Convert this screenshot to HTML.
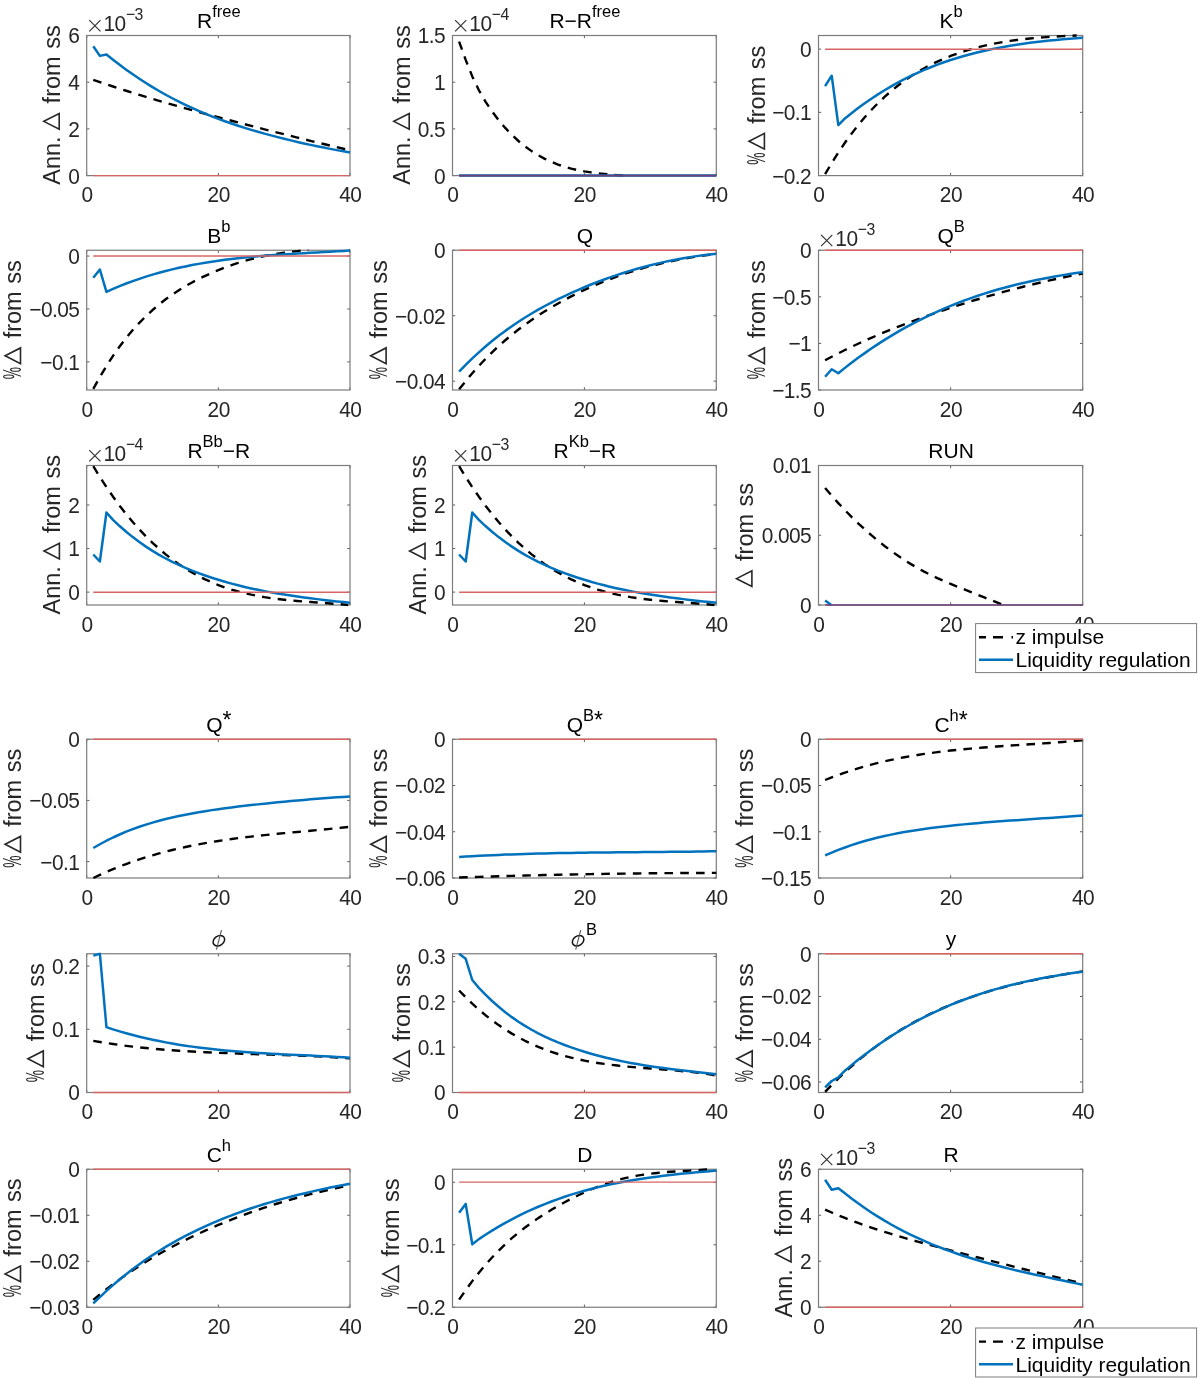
<!DOCTYPE html>
<html><head><meta charset="utf-8"><title>IRF figure</title>
<style>
html,body{margin:0;padding:0;background:#fff;}
svg{display:block;will-change:transform;}
text{font-family:"Liberation Sans",sans-serif;}
.tk{font-size:22.5px;fill:#262626;letter-spacing:-0.6px;}
.esup{font-size:17px;}
.tt{font-size:21px;fill:#000;}
.sup,.tsup{font-size:16.5px;}
.tsup{fill:#000;}
.yl{font-size:23.5px;fill:#262626;}
.lg{font-size:21px;fill:#000;}
.ast{font-size:23px;}
</style></head>
<body>
<svg width="1200" height="1380" viewBox="0 0 1200 1380">
<rect width="1200" height="1380" fill="#fff"/>
<clipPath id="c1"><rect x="85.20" y="34.00" width="266.30" height="143.10"/></clipPath>
<path d="M86.70,175.60v-2.7M86.70,35.50v2.7M218.35,175.60v-2.7M218.35,35.50v2.7M350.00,175.60v-2.7M350.00,35.50v2.7M86.70,175.60h2.7M350.00,175.60h-2.7M86.70,128.90h2.7M350.00,128.90h-2.7M86.70,82.20h2.7M350.00,82.20h-2.7M86.70,35.50h2.7M350.00,35.50h-2.7" stroke="#5a5a5a" stroke-width="1" fill="none"/>
<rect x="86.70" y="35.50" width="263.30" height="140.10" fill="none" stroke="#7c7c7c" stroke-width="1.2"/>
<g clip-path="url(#c1)" fill="none" stroke-linejoin="round"><path d="M93.28,79.83 L99.87,82.10 L106.45,84.33 L113.03,86.51 L119.61,88.66 L126.19,90.76 L132.78,92.83 L139.36,94.87 L145.94,96.87 L152.53,98.85 L159.11,100.79 L165.69,102.70 L172.27,104.59 L178.86,106.46 L185.44,108.31 L192.02,110.13 L198.60,111.94 L205.19,113.73 L211.77,115.50 L218.35,117.27 L224.93,119.02 L231.52,120.76 L238.10,122.49 L244.68,124.21 L251.26,125.91 L257.85,127.61 L264.43,129.30 L271.01,130.98 L277.59,132.64 L284.18,134.30 L290.76,135.95 L297.34,137.58 L303.92,139.21 L310.50,140.83 L317.09,142.43 L323.67,144.03 L330.25,145.62 L336.83,147.20 L343.42,148.77 L350.00,150.33" stroke="#000" stroke-width="2.4" stroke-dasharray="8.6 7.2"/><path d="M93.28,46.30 L99.87,55.90 L106.45,54.50 L113.03,59.73 L119.61,64.79 L126.19,69.64 L132.78,74.29 L139.36,78.75 L145.94,83.02 L152.53,87.10 L159.11,91.00 L165.69,94.72 L172.27,98.27 L178.86,101.65 L185.44,104.88 L192.02,107.95 L198.60,110.87 L205.19,113.66 L211.77,116.31 L218.35,118.84 L224.93,121.25 L231.52,123.54 L238.10,125.74 L244.68,127.84 L251.26,129.84 L257.85,131.77 L264.43,133.63 L271.01,135.41 L277.59,137.14 L284.18,138.79 L290.76,140.39 L297.34,141.94 L303.92,143.42 L310.50,144.86 L317.09,146.24 L323.67,147.58 L330.25,148.88 L336.83,150.13 L343.42,151.35 L350.00,152.53" stroke="#0072BD" stroke-width="2.5"/><line x1="93.28" y1="175.60" x2="350.00" y2="175.60" stroke="#D86464" stroke-width="1.4"/></g>
<text class="tk" transform="translate(87.00,202.10) scale(0.93,1)" text-anchor="middle">0</text>
<text class="tk" transform="translate(218.65,202.10) scale(0.93,1)" text-anchor="middle">20</text>
<text class="tk" transform="translate(350.30,202.10) scale(0.93,1)" text-anchor="middle">40</text>
<text class="tk" transform="translate(79.40,183.50) scale(0.93,1)" text-anchor="end">0</text>
<text class="tk" transform="translate(79.40,136.80) scale(0.93,1)" text-anchor="end">2</text>
<text class="tk" transform="translate(79.40,90.10) scale(0.93,1)" text-anchor="end">4</text>
<text class="tk" transform="translate(79.40,43.40) scale(0.93,1)" text-anchor="end">6</text>
<path d="M89.30,20.20L100.50,31.40M100.50,20.20L89.30,31.40" stroke="#333" stroke-width="1.2" fill="none"/>
<text class="tk" transform="translate(103.50,30.90) scale(0.93,1)">10<tspan class="esup" dx="0.3" dy="-10.7">−3</tspan></text>
<text class="tt" x="218.85" y="27.75" text-anchor="middle">R<tspan class="sup" dy="-10.5">free</tspan></text>
<g class="yl" transform="translate(60.00,184.70) rotate(-90)"><text x="-0.1" y="0">Ann.</text><path d="M55.50,-0.80L71.20,-0.80L63.35,-16.20Z" fill="none" stroke="#262626" stroke-width="1.6" stroke-linejoin="miter" stroke-miterlimit="10"/><text x="81.30" y="0" word-spacing="1">from ss</text></g>
<clipPath id="c2"><rect x="451.00" y="34.00" width="266.80" height="143.10"/></clipPath>
<path d="M452.50,175.60v-2.7M452.50,35.50v2.7M584.40,175.60v-2.7M584.40,35.50v2.7M716.30,175.60v-2.7M716.30,35.50v2.7M452.50,175.60h2.7M716.30,175.60h-2.7M452.50,128.90h2.7M716.30,128.90h-2.7M452.50,82.20h2.7M716.30,82.20h-2.7M452.50,35.50h2.7M716.30,35.50h-2.7" stroke="#5a5a5a" stroke-width="1" fill="none"/>
<rect x="452.50" y="35.50" width="263.80" height="140.10" fill="none" stroke="#7c7c7c" stroke-width="1.2"/>
<g clip-path="url(#c2)" fill="none" stroke-linejoin="round"><path d="M459.10,41.57 L465.69,59.87 L472.28,76.42 L478.88,90.26 L485.48,101.67 L492.07,111.45 L498.66,120.16 L505.26,127.95 L511.86,134.88 L518.45,141.00 L525.04,146.40 L531.64,151.13 L538.24,155.26 L544.83,158.84 L551.42,161.92 L558.02,164.53 L564.62,166.74 L571.21,168.58 L577.80,170.11 L584.40,171.37 L591.00,172.41 L597.59,173.27 L604.18,174.00 L610.78,174.62 L617.38,175.15 L623.97,175.59 L624.17,175.60" stroke="#000" stroke-width="2.4" stroke-dasharray="8.6 7.2"/><path d="M459.10,175.60 L716.30,175.60" stroke="#0072BD" stroke-width="2.5"/><line x1="459.10" y1="175.60" x2="716.30" y2="175.60" stroke="#6e3f78" stroke-width="1.6"/></g>
<text class="tk" transform="translate(452.80,202.10) scale(0.93,1)" text-anchor="middle">0</text>
<text class="tk" transform="translate(584.70,202.10) scale(0.93,1)" text-anchor="middle">20</text>
<text class="tk" transform="translate(716.60,202.10) scale(0.93,1)" text-anchor="middle">40</text>
<text class="tk" transform="translate(445.20,183.50) scale(0.93,1)" text-anchor="end">0</text>
<text class="tk" transform="translate(445.20,136.80) scale(0.93,1)" text-anchor="end">0.5</text>
<text class="tk" transform="translate(445.20,90.10) scale(0.93,1)" text-anchor="end">1</text>
<text class="tk" transform="translate(445.20,43.40) scale(0.93,1)" text-anchor="end">1.5</text>
<path d="M455.10,20.20L466.30,31.40M466.30,20.20L455.10,31.40" stroke="#333" stroke-width="1.2" fill="none"/>
<text class="tk" transform="translate(469.30,30.90) scale(0.93,1)">10<tspan class="esup" dx="0.3" dy="-10.7">−4</tspan></text>
<text class="tt" x="584.90" y="27.75" text-anchor="middle">R−R<tspan class="sup" dy="-10.5">free</tspan></text>
<g class="yl" transform="translate(410.00,184.70) rotate(-90)"><text x="-0.1" y="0">Ann.</text><path d="M55.50,-0.80L71.20,-0.80L63.35,-16.20Z" fill="none" stroke="#262626" stroke-width="1.6" stroke-linejoin="miter" stroke-miterlimit="10"/><text x="81.30" y="0" word-spacing="1">from ss</text></g>
<clipPath id="c3"><rect x="817.00" y="34.00" width="267.20" height="143.10"/></clipPath>
<path d="M818.50,175.60v-2.7M818.50,35.50v2.7M950.60,175.60v-2.7M950.60,35.50v2.7M1082.70,175.60v-2.7M1082.70,35.50v2.7M818.50,175.60h2.7M1082.70,175.60h-2.7M818.50,112.35h2.7M1082.70,112.35h-2.7M818.50,49.10h2.7M1082.70,49.10h-2.7" stroke="#5a5a5a" stroke-width="1" fill="none"/>
<rect x="818.50" y="35.50" width="264.20" height="140.10" fill="none" stroke="#7c7c7c" stroke-width="1.2"/>
<g clip-path="url(#c3)" fill="none" stroke-linejoin="round"><path d="M825.11,174.15 L831.71,162.97 L838.32,152.51 L844.92,142.74 L851.52,133.64 L858.13,125.16 L864.74,117.29 L871.34,109.97 L877.95,103.19 L884.55,96.91 L891.15,91.10 L897.76,85.74 L904.37,80.79 L910.97,76.24 L917.58,72.06 L924.18,68.24 L930.78,64.74 L937.39,61.55 L944.00,58.64 L950.60,55.99 L957.21,53.57 L963.81,51.36 L970.41,49.36 L977.02,47.54 L983.62,45.90 L990.23,44.43 L996.84,43.12 L1003.44,41.96 L1010.05,40.92 L1016.65,40.01 L1023.26,39.21 L1029.86,38.52 L1036.47,37.91 L1043.07,37.38 L1049.67,36.92 L1056.28,36.52 L1062.88,36.16 L1069.49,35.83 L1076.10,35.53 L1076.71,35.50" stroke="#000" stroke-width="2.4" stroke-dasharray="8.6 7.2"/><path d="M825.11,86.20 L831.71,75.70 L838.32,125.10 L844.92,118.47 L851.52,113.16 L858.13,108.10 L864.74,103.30 L871.34,98.73 L877.95,94.39 L884.55,90.28 L891.15,86.39 L897.76,82.70 L904.37,79.23 L910.97,75.95 L917.58,72.86 L924.18,69.95 L930.78,67.23 L937.39,64.67 L944.00,62.27 L950.60,60.03 L957.21,57.94 L963.81,55.99 L970.41,54.18 L977.02,52.49 L983.62,50.93 L990.23,49.48 L996.84,48.14 L1003.44,46.90 L1010.05,45.76 L1016.65,44.70 L1023.26,43.73 L1029.86,42.84 L1036.47,42.01 L1043.07,41.25 L1049.67,40.55 L1056.28,39.89 L1062.88,39.28 L1069.49,38.71 L1076.10,38.17 L1082.70,37.65" stroke="#0072BD" stroke-width="2.5"/><line x1="825.11" y1="49.25" x2="1082.70" y2="49.25" stroke="#D86464" stroke-width="1.4"/></g>
<text class="tk" transform="translate(818.80,202.10) scale(0.93,1)" text-anchor="middle">0</text>
<text class="tk" transform="translate(950.90,202.10) scale(0.93,1)" text-anchor="middle">20</text>
<text class="tk" transform="translate(1083.00,202.10) scale(0.93,1)" text-anchor="middle">40</text>
<text class="tk" transform="translate(811.20,183.50) scale(0.93,1)" text-anchor="end">−0.2</text>
<text class="tk" transform="translate(811.20,120.25) scale(0.93,1)" text-anchor="end">−0.1</text>
<text class="tk" transform="translate(811.20,57.00) scale(0.93,1)" text-anchor="end">0</text>
<text class="tt" x="951.10" y="27.75" text-anchor="middle">K<tspan class="sup" dy="-10.5">b</tspan></text>
<g class="yl" transform="translate(765.20,164.45) rotate(-90)"><text transform="translate(-0.2,0) scale(0.59,1.07)">%</text><path d="M15.40,-0.80L31.10,-0.80L23.25,-16.20Z" fill="none" stroke="#262626" stroke-width="1.6" stroke-linejoin="miter" stroke-miterlimit="10"/><text x="40.70" y="0" word-spacing="1">from ss</text></g>
<clipPath id="c4"><rect x="85.20" y="248.75" width="266.30" height="142.75"/></clipPath>
<path d="M86.70,390.00v-2.7M86.70,250.25v2.7M218.35,390.00v-2.7M218.35,250.25v2.7M350.00,390.00v-2.7M350.00,250.25v2.7M86.70,361.86h2.7M350.00,361.86h-2.7M86.70,308.96h2.7M350.00,308.96h-2.7M86.70,256.07h2.7M350.00,256.07h-2.7" stroke="#5a5a5a" stroke-width="1" fill="none"/>
<rect x="86.70" y="250.25" width="263.30" height="139.75" fill="none" stroke="#7c7c7c" stroke-width="1.2"/>
<g clip-path="url(#c4)" fill="none" stroke-linejoin="round"><path d="M93.28,388.95 L99.87,377.01 L106.45,366.00 L113.03,355.85 L119.61,346.51 L126.19,337.93 L132.78,330.04 L139.36,322.80 L145.94,316.15 L152.53,310.03 L159.11,304.41 L165.69,299.25 L172.27,294.52 L178.86,290.17 L185.44,286.17 L192.02,282.47 L198.60,279.05 L205.19,275.85 L211.77,272.87 L218.35,270.10 L224.93,267.52 L231.52,265.14 L238.10,262.96 L244.68,260.95 L251.26,259.13 L257.85,257.49 L264.43,256.02 L271.01,254.72 L277.59,253.57 L284.18,252.59 L290.76,251.75 L297.34,251.07 L303.92,250.52 L308.30,250.25 M349.34,250.25 L350.00,250.28" stroke="#000" stroke-width="2.4" stroke-dasharray="8.6 7.2"/><path d="M93.28,277.70 L99.87,269.50 L106.45,291.90 L113.03,288.81 L119.61,286.09 L126.19,283.52 L132.78,281.10 L139.36,278.82 L145.94,276.68 L152.53,274.66 L159.11,272.78 L165.69,271.02 L172.27,269.38 L178.86,267.84 L185.44,266.42 L192.02,265.09 L198.60,263.86 L205.19,262.73 L211.77,261.68 L218.35,260.71 L224.93,259.82 L231.52,258.99 L238.10,258.24 L244.68,257.54 L251.26,256.90 L257.85,256.31 L264.43,255.77 L271.01,255.27 L277.59,254.80 L284.18,254.36 L290.76,253.95 L297.34,253.56 L303.92,253.18 L310.50,252.81 L317.09,252.45 L323.67,252.08 L330.25,251.71 L336.83,251.33 L343.42,250.94 L350.00,250.52" stroke="#0072BD" stroke-width="2.5"/><line x1="93.28" y1="256.00" x2="350.00" y2="256.00" stroke="#D86464" stroke-width="1.4"/></g>
<text class="tk" transform="translate(87.00,416.50) scale(0.93,1)" text-anchor="middle">0</text>
<text class="tk" transform="translate(218.65,416.50) scale(0.93,1)" text-anchor="middle">20</text>
<text class="tk" transform="translate(350.30,416.50) scale(0.93,1)" text-anchor="middle">40</text>
<text class="tk" transform="translate(79.40,369.76) scale(0.93,1)" text-anchor="end">−0.1</text>
<text class="tk" transform="translate(79.40,316.86) scale(0.93,1)" text-anchor="end">−0.05</text>
<text class="tk" transform="translate(79.40,263.97) scale(0.93,1)" text-anchor="end">0</text>
<text class="tt" x="218.85" y="242.50" text-anchor="middle">B<tspan class="sup" dy="-11">b</tspan></text>
<g class="yl" transform="translate(21.30,379.02) rotate(-90)"><text transform="translate(-0.2,0) scale(0.59,1.07)">%</text><path d="M15.40,-0.80L31.10,-0.80L23.25,-16.20Z" fill="none" stroke="#262626" stroke-width="1.6" stroke-linejoin="miter" stroke-miterlimit="10"/><text x="40.70" y="0" word-spacing="1">from ss</text></g>
<clipPath id="c5"><rect x="451.00" y="248.75" width="266.80" height="142.75"/></clipPath>
<path d="M452.50,390.00v-2.7M452.50,250.25v2.7M584.40,390.00v-2.7M584.40,250.25v2.7M716.30,390.00v-2.7M716.30,250.25v2.7M452.50,381.16h2.7M716.30,381.16h-2.7M452.50,315.71h2.7M716.30,315.71h-2.7M452.50,250.25h2.7M716.30,250.25h-2.7" stroke="#5a5a5a" stroke-width="1" fill="none"/>
<rect x="452.50" y="250.25" width="263.80" height="139.75" fill="none" stroke="#7c7c7c" stroke-width="1.2"/>
<g clip-path="url(#c5)" fill="none" stroke-linejoin="round"><path d="M459.10,389.37 L465.69,381.08 L472.28,373.25 L478.88,365.86 L485.48,358.88 L492.07,352.30 L498.66,346.09 L505.26,340.24 L511.86,334.71 L518.45,329.50 L525.04,324.57 L531.64,319.91 L538.24,315.49 L544.83,311.30 L551.42,307.31 L558.02,303.51 L564.62,299.87 L571.21,296.39 L577.80,293.08 L584.40,289.92 L591.00,286.92 L597.59,284.07 L604.18,281.36 L610.78,278.79 L617.38,276.36 L623.97,274.07 L630.56,271.91 L637.16,269.87 L643.75,267.95 L650.35,266.16 L656.94,264.48 L663.54,262.91 L670.13,261.45 L676.73,260.09 L683.32,258.83 L689.92,257.67 L696.51,256.60 L703.11,255.62 L709.70,254.73 L716.30,253.92" stroke="#000" stroke-width="2.4" stroke-dasharray="8.6 7.2"/><path d="M459.10,371.66 L465.69,364.88 L472.28,358.45 L478.88,352.34 L485.48,346.55 L492.07,341.05 L498.66,335.84 L505.26,330.89 L511.86,326.19 L518.45,321.74 L525.04,317.51 L531.64,313.49 L538.24,309.67 L544.83,306.03 L551.42,302.55 L558.02,299.23 L564.62,296.05 L571.21,292.99 L577.80,290.05 L584.40,287.23 L591.00,284.53 L597.59,281.94 L604.18,279.46 L610.78,277.10 L617.38,274.85 L623.97,272.71 L630.56,270.67 L637.16,268.75 L643.75,266.94 L650.35,265.23 L656.94,263.62 L663.54,262.12 L670.13,260.72 L676.73,259.43 L683.32,258.23 L689.92,257.13 L696.51,256.13 L703.11,255.23 L709.70,254.42 L716.30,253.71" stroke="#0072BD" stroke-width="2.5"/><line x1="459.10" y1="250.25" x2="716.30" y2="250.25" stroke="#D86464" stroke-width="1.4"/></g>
<text class="tk" transform="translate(452.80,416.50) scale(0.93,1)" text-anchor="middle">0</text>
<text class="tk" transform="translate(584.70,416.50) scale(0.93,1)" text-anchor="middle">20</text>
<text class="tk" transform="translate(716.60,416.50) scale(0.93,1)" text-anchor="middle">40</text>
<text class="tk" transform="translate(445.20,389.06) scale(0.93,1)" text-anchor="end">−0.04</text>
<text class="tk" transform="translate(445.20,323.61) scale(0.93,1)" text-anchor="end">−0.02</text>
<text class="tk" transform="translate(445.20,258.15) scale(0.93,1)" text-anchor="end">0</text>
<text class="tt" x="584.90" y="242.50" text-anchor="middle">Q</text>
<g class="yl" transform="translate(386.90,379.02) rotate(-90)"><text transform="translate(-0.2,0) scale(0.59,1.07)">%</text><path d="M15.40,-0.80L31.10,-0.80L23.25,-16.20Z" fill="none" stroke="#262626" stroke-width="1.6" stroke-linejoin="miter" stroke-miterlimit="10"/><text x="40.70" y="0" word-spacing="1">from ss</text></g>
<clipPath id="c6"><rect x="817.00" y="248.75" width="267.20" height="142.75"/></clipPath>
<path d="M818.50,390.00v-2.7M818.50,250.25v2.7M950.60,390.00v-2.7M950.60,250.25v2.7M1082.70,390.00v-2.7M1082.70,250.25v2.7M818.50,390.00h2.7M1082.70,390.00h-2.7M818.50,343.42h2.7M1082.70,343.42h-2.7M818.50,296.83h2.7M1082.70,296.83h-2.7M818.50,250.25h2.7M1082.70,250.25h-2.7" stroke="#5a5a5a" stroke-width="1" fill="none"/>
<rect x="818.50" y="250.25" width="264.20" height="139.75" fill="none" stroke="#7c7c7c" stroke-width="1.2"/>
<g clip-path="url(#c6)" fill="none" stroke-linejoin="round"><path d="M825.11,360.31 L831.71,356.78 L838.32,353.36 L844.92,350.05 L851.52,346.84 L858.13,343.73 L864.74,340.72 L871.34,337.78 L877.95,334.94 L884.55,332.17 L891.15,329.47 L897.76,326.85 L904.37,324.29 L910.97,321.78 L917.58,319.34 L924.18,316.94 L930.78,314.59 L937.39,312.29 L944.00,310.04 L950.60,307.84 L957.21,305.68 L963.81,303.57 L970.41,301.51 L977.02,299.50 L983.62,297.53 L990.23,295.61 L996.84,293.74 L1003.44,291.92 L1010.05,290.14 L1016.65,288.40 L1023.26,286.72 L1029.86,285.08 L1036.47,283.48 L1043.07,281.93 L1049.67,280.43 L1056.28,278.97 L1062.88,277.56 L1069.49,276.19 L1076.10,274.87 L1082.70,273.59" stroke="#000" stroke-width="2.4" stroke-dasharray="8.6 7.2"/><path d="M825.11,376.80 L831.71,369.25 L838.32,373.30 L844.92,367.88 L851.52,362.78 L858.13,357.85 L864.74,353.11 L871.34,348.53 L877.95,344.13 L884.55,339.90 L891.15,335.82 L897.76,331.91 L904.37,328.15 L910.97,324.54 L917.58,321.08 L924.18,317.76 L930.78,314.59 L937.39,311.55 L944.00,308.65 L950.60,305.87 L957.21,303.23 L963.81,300.70 L970.41,298.30 L977.02,296.01 L983.62,293.83 L990.23,291.76 L996.84,289.80 L1003.44,287.94 L1010.05,286.17 L1016.65,284.50 L1023.26,282.92 L1029.86,281.42 L1036.47,280.01 L1043.07,278.68 L1049.67,277.43 L1056.28,276.25 L1062.88,275.13 L1069.49,274.08 L1076.10,273.10 L1082.70,272.17" stroke="#0072BD" stroke-width="2.5"/><line x1="825.11" y1="250.25" x2="1082.70" y2="250.25" stroke="#D86464" stroke-width="1.4"/></g>
<text class="tk" transform="translate(818.80,416.50) scale(0.93,1)" text-anchor="middle">0</text>
<text class="tk" transform="translate(950.90,416.50) scale(0.93,1)" text-anchor="middle">20</text>
<text class="tk" transform="translate(1083.00,416.50) scale(0.93,1)" text-anchor="middle">40</text>
<text class="tk" transform="translate(811.20,397.90) scale(0.93,1)" text-anchor="end">−1.5</text>
<text class="tk" transform="translate(811.20,351.32) scale(0.93,1)" text-anchor="end">−1</text>
<text class="tk" transform="translate(811.20,304.73) scale(0.93,1)" text-anchor="end">−0.5</text>
<text class="tk" transform="translate(811.20,258.15) scale(0.93,1)" text-anchor="end">0</text>
<path d="M821.10,234.95L832.30,246.15M832.30,234.95L821.10,246.15" stroke="#333" stroke-width="1.2" fill="none"/>
<text class="tk" transform="translate(835.30,245.65) scale(0.93,1)">10<tspan class="esup" dx="0.3" dy="-10.7">−3</tspan></text>
<text class="tt" x="951.10" y="242.50" text-anchor="middle">Q<tspan class="sup" dy="-11">B</tspan></text>
<g class="yl" transform="translate(765.20,379.02) rotate(-90)"><text transform="translate(-0.2,0) scale(0.59,1.07)">%</text><path d="M15.40,-0.80L31.10,-0.80L23.25,-16.20Z" fill="none" stroke="#262626" stroke-width="1.6" stroke-linejoin="miter" stroke-miterlimit="10"/><text x="40.70" y="0" word-spacing="1">from ss</text></g>
<clipPath id="c7"><rect x="85.20" y="464.00" width="266.30" height="142.50"/></clipPath>
<path d="M86.70,605.00v-2.7M86.70,465.50v2.7M218.35,605.00v-2.7M218.35,465.50v2.7M350.00,605.00v-2.7M350.00,465.50v2.7M86.70,592.11h2.7M350.00,592.11h-2.7M86.70,548.56h2.7M350.00,548.56h-2.7M86.70,505.00h2.7M350.00,505.00h-2.7" stroke="#5a5a5a" stroke-width="1" fill="none"/>
<rect x="86.70" y="465.50" width="263.30" height="139.50" fill="none" stroke="#7c7c7c" stroke-width="1.2"/>
<g clip-path="url(#c7)" fill="none" stroke-linejoin="round"><path d="M93.28,466.20 L99.87,476.95 L106.45,487.11 L113.03,496.67 L119.61,505.68 L126.19,514.13 L132.78,522.05 L139.36,529.46 L145.94,536.37 L152.53,542.81 L159.11,548.79 L165.69,554.33 L172.27,559.45 L178.86,564.17 L185.44,568.50 L192.02,572.47 L198.60,576.09 L205.19,579.38 L211.77,582.35 L218.35,585.04 L224.93,587.44 L231.52,589.60 L238.10,591.51 L244.68,593.20 L251.26,594.69 L257.85,596.00 L264.43,597.14 L271.01,598.13 L277.59,598.99 L284.18,599.75 L290.76,600.41 L297.34,600.99 L303.92,601.52 L310.50,602.01 L317.09,602.48 L323.67,602.95 L330.25,603.44 L336.83,603.96 L343.42,604.53 L348.16,605.00" stroke="#000" stroke-width="2.4" stroke-dasharray="8.6 7.2"/><path d="M93.28,554.50 L99.87,561.50 L106.45,512.50 L113.03,519.89 L119.61,526.05 L126.19,531.78 L132.78,537.11 L139.36,542.05 L145.94,546.64 L152.53,550.89 L159.11,554.83 L165.69,558.47 L172.27,561.85 L178.86,564.98 L185.44,567.88 L192.02,570.58 L198.60,573.11 L205.19,575.48 L211.77,577.70 L218.35,579.79 L224.93,581.75 L231.52,583.59 L238.10,585.31 L244.68,586.92 L251.26,588.42 L257.85,589.83 L264.43,591.14 L271.01,592.37 L277.59,593.52 L284.18,594.60 L290.76,595.61 L297.34,596.57 L303.92,597.47 L310.50,598.32 L317.09,599.13 L323.67,599.91 L330.25,600.66 L336.83,601.39 L343.42,602.10 L350.00,602.81" stroke="#0072BD" stroke-width="2.5"/><line x1="93.28" y1="592.20" x2="350.00" y2="592.20" stroke="#D86464" stroke-width="1.4"/></g>
<text class="tk" transform="translate(87.00,631.50) scale(0.93,1)" text-anchor="middle">0</text>
<text class="tk" transform="translate(218.65,631.50) scale(0.93,1)" text-anchor="middle">20</text>
<text class="tk" transform="translate(350.30,631.50) scale(0.93,1)" text-anchor="middle">40</text>
<text class="tk" transform="translate(79.40,600.01) scale(0.93,1)" text-anchor="end">0</text>
<text class="tk" transform="translate(79.40,556.46) scale(0.93,1)" text-anchor="end">1</text>
<text class="tk" transform="translate(79.40,512.90) scale(0.93,1)" text-anchor="end">2</text>
<path d="M89.30,450.20L100.50,461.40M100.50,450.20L89.30,461.40" stroke="#333" stroke-width="1.2" fill="none"/>
<text class="tk" transform="translate(103.50,460.90) scale(0.93,1)">10<tspan class="esup" dx="0.3" dy="-10.7">−4</tspan></text>
<text class="tt" x="218.85" y="457.75" text-anchor="middle">R<tspan class="sup" dy="-11">Bb</tspan><tspan dy="11">−R</tspan></text>
<g class="yl" transform="translate(60.20,614.40) rotate(-90)"><text x="-0.1" y="0">Ann.</text><path d="M55.50,-0.80L71.20,-0.80L63.35,-16.20Z" fill="none" stroke="#262626" stroke-width="1.6" stroke-linejoin="miter" stroke-miterlimit="10"/><text x="81.30" y="0" word-spacing="1">from ss</text></g>
<clipPath id="c8"><rect x="451.00" y="464.00" width="266.80" height="142.50"/></clipPath>
<path d="M452.50,605.00v-2.7M452.50,465.50v2.7M584.40,605.00v-2.7M584.40,465.50v2.7M716.30,605.00v-2.7M716.30,465.50v2.7M452.50,592.11h2.7M716.30,592.11h-2.7M452.50,548.56h2.7M716.30,548.56h-2.7M452.50,505.00h2.7M716.30,505.00h-2.7" stroke="#5a5a5a" stroke-width="1" fill="none"/>
<rect x="452.50" y="465.50" width="263.80" height="139.50" fill="none" stroke="#7c7c7c" stroke-width="1.2"/>
<g clip-path="url(#c8)" fill="none" stroke-linejoin="round"><path d="M459.10,466.20 L465.69,476.95 L472.28,487.11 L478.88,496.67 L485.48,505.68 L492.07,514.13 L498.66,522.05 L505.26,529.46 L511.86,536.37 L518.45,542.81 L525.04,548.79 L531.64,554.33 L538.24,559.45 L544.83,564.17 L551.42,568.50 L558.02,572.47 L564.62,576.09 L571.21,579.38 L577.80,582.35 L584.40,585.04 L591.00,587.44 L597.59,589.60 L604.18,591.51 L610.78,593.20 L617.38,594.69 L623.97,596.00 L630.56,597.14 L637.16,598.13 L643.75,598.99 L650.35,599.75 L656.94,600.41 L663.54,600.99 L670.13,601.52 L676.73,602.01 L683.32,602.48 L689.92,602.95 L696.51,603.44 L703.11,603.96 L709.70,604.53 L714.46,605.00" stroke="#000" stroke-width="2.4" stroke-dasharray="8.6 7.2"/><path d="M459.10,554.50 L465.69,561.50 L472.28,512.50 L478.88,519.89 L485.48,526.05 L492.07,531.78 L498.66,537.11 L505.26,542.05 L511.86,546.64 L518.45,550.89 L525.04,554.83 L531.64,558.47 L538.24,561.85 L544.83,564.98 L551.42,567.88 L558.02,570.58 L564.62,573.11 L571.21,575.48 L577.80,577.70 L584.40,579.79 L591.00,581.75 L597.59,583.59 L604.18,585.31 L610.78,586.92 L617.38,588.42 L623.97,589.83 L630.56,591.14 L637.16,592.37 L643.75,593.52 L650.35,594.60 L656.94,595.61 L663.54,596.57 L670.13,597.47 L676.73,598.32 L683.32,599.13 L689.92,599.91 L696.51,600.66 L703.11,601.39 L709.70,602.10 L716.30,602.81" stroke="#0072BD" stroke-width="2.5"/><line x1="459.10" y1="592.20" x2="716.30" y2="592.20" stroke="#D86464" stroke-width="1.4"/></g>
<text class="tk" transform="translate(452.80,631.50) scale(0.93,1)" text-anchor="middle">0</text>
<text class="tk" transform="translate(584.70,631.50) scale(0.93,1)" text-anchor="middle">20</text>
<text class="tk" transform="translate(716.60,631.50) scale(0.93,1)" text-anchor="middle">40</text>
<text class="tk" transform="translate(445.20,600.01) scale(0.93,1)" text-anchor="end">0</text>
<text class="tk" transform="translate(445.20,556.46) scale(0.93,1)" text-anchor="end">1</text>
<text class="tk" transform="translate(445.20,512.90) scale(0.93,1)" text-anchor="end">2</text>
<path d="M455.10,450.20L466.30,461.40M466.30,450.20L455.10,461.40" stroke="#333" stroke-width="1.2" fill="none"/>
<text class="tk" transform="translate(469.30,460.90) scale(0.93,1)">10<tspan class="esup" dx="0.3" dy="-10.7">−3</tspan></text>
<text class="tt" x="584.90" y="457.75" text-anchor="middle">R<tspan class="sup" dy="-11">Kb</tspan><tspan dy="11">−R</tspan></text>
<g class="yl" transform="translate(425.80,614.40) rotate(-90)"><text x="-0.1" y="0">Ann.</text><path d="M55.50,-0.80L71.20,-0.80L63.35,-16.20Z" fill="none" stroke="#262626" stroke-width="1.6" stroke-linejoin="miter" stroke-miterlimit="10"/><text x="81.30" y="0" word-spacing="1">from ss</text></g>
<clipPath id="c9"><rect x="817.00" y="464.00" width="267.20" height="142.50"/></clipPath>
<path d="M818.50,605.00v-2.7M818.50,465.50v2.7M950.60,605.00v-2.7M950.60,465.50v2.7M1082.70,605.00v-2.7M1082.70,465.50v2.7M818.50,605.00h2.7M1082.70,605.00h-2.7M818.50,535.25h2.7M1082.70,535.25h-2.7M818.50,465.50h2.7M1082.70,465.50h-2.7" stroke="#5a5a5a" stroke-width="1" fill="none"/>
<rect x="818.50" y="465.50" width="264.20" height="139.50" fill="none" stroke="#7c7c7c" stroke-width="1.2"/>
<g clip-path="url(#c9)" fill="none" stroke-linejoin="round"><path d="M825.11,488.03 L831.71,495.72 L838.32,503.09 L844.92,510.13 L851.52,516.86 L858.13,523.27 L864.74,529.38 L871.34,535.20 L877.95,540.72 L884.55,545.95 L891.15,550.90 L897.76,555.57 L904.37,559.97 L910.97,564.11 L917.58,567.99 L924.18,571.62 L930.78,575.00 L937.39,578.14 L944.00,581.08 L950.60,583.87 L957.21,586.56 L963.81,589.20 L970.41,591.84 L977.02,594.49 L983.62,597.15 L990.23,599.78 L996.84,602.38 L1003.44,604.93 L1003.63,605.00" stroke="#000" stroke-width="2.4" stroke-dasharray="8.6 7.2"/><path d="M825.11,600.60 L831.29,605.00" stroke="#0072BD" stroke-width="2.5"/><line x1="825.11" y1="605.00" x2="1082.70" y2="605.00" stroke="#6e3f78" stroke-width="1.6"/></g>
<text class="tk" transform="translate(818.80,631.50) scale(0.93,1)" text-anchor="middle">0</text>
<text class="tk" transform="translate(950.90,631.50) scale(0.93,1)" text-anchor="middle">20</text>
<text class="tk" transform="translate(1083.00,631.50) scale(0.93,1)" text-anchor="middle">40</text>
<text class="tk" transform="translate(811.20,612.90) scale(0.93,1)" text-anchor="end">0</text>
<text class="tk" transform="translate(811.20,543.15) scale(0.93,1)" text-anchor="end">0.005</text>
<text class="tk" transform="translate(811.20,473.40) scale(0.93,1)" text-anchor="end">0.01</text>
<text class="tt" x="951.10" y="457.75" text-anchor="middle">RUN</text>
<g class="yl" transform="translate(752.70,587.60) rotate(-90)"><path d="M1.10,-0.80L16.80,-0.80L8.95,-16.20Z" fill="none" stroke="#262626" stroke-width="1.6" stroke-linejoin="miter" stroke-miterlimit="10"/><text x="26.70" y="0" word-spacing="1">from ss</text></g>
<clipPath id="c10"><rect x="85.20" y="737.75" width="266.30" height="141.75"/></clipPath>
<path d="M86.70,878.00v-2.7M86.70,739.25v2.7M218.35,878.00v-2.7M218.35,739.25v2.7M350.00,878.00v-2.7M350.00,739.25v2.7M86.70,861.60h2.7M350.00,861.60h-2.7M86.70,800.43h2.7M350.00,800.43h-2.7M86.70,739.25h2.7M350.00,739.25h-2.7" stroke="#5a5a5a" stroke-width="1" fill="none"/>
<rect x="86.70" y="739.25" width="263.30" height="138.75" fill="none" stroke="#7c7c7c" stroke-width="1.2"/>
<g clip-path="url(#c10)" fill="none" stroke-linejoin="round"><path d="M93.37,878.00 L99.87,874.93 L106.45,871.98 L113.03,869.18 L119.61,866.53 L126.19,864.02 L132.78,861.65 L139.36,859.41 L145.94,857.30 L152.53,855.30 L159.11,853.43 L165.69,851.67 L172.27,850.01 L178.86,848.46 L185.44,847.00 L192.02,845.63 L198.60,844.35 L205.19,843.15 L211.77,842.02 L218.35,840.97 L224.93,839.98 L231.52,839.05 L238.10,838.18 L244.68,837.35 L251.26,836.57 L257.85,835.83 L264.43,835.13 L271.01,834.45 L277.59,833.80 L284.18,833.17 L290.76,832.55 L297.34,831.94 L303.92,831.33 L310.50,830.72 L317.09,830.11 L323.67,829.48 L330.25,828.83 L336.83,828.17 L343.42,827.48 L350.00,826.75" stroke="#000" stroke-width="2.4" stroke-dasharray="8.6 7.2"/><path d="M93.28,847.99 L99.87,844.23 L106.45,840.74 L113.03,837.50 L119.61,834.49 L126.19,831.71 L132.78,829.14 L139.36,826.78 L145.94,824.59 L152.53,822.58 L159.11,820.73 L165.69,819.03 L172.27,817.46 L178.86,816.00 L185.44,814.66 L192.02,813.41 L198.60,812.24 L205.19,811.15 L211.77,810.12 L218.35,809.16 L224.93,808.26 L231.52,807.41 L238.10,806.60 L244.68,805.83 L251.26,805.10 L257.85,804.38 L264.43,803.69 L271.01,803.01 L277.59,802.35 L284.18,801.71 L290.76,801.09 L297.34,800.49 L303.92,799.90 L310.50,799.35 L317.09,798.81 L323.67,798.30 L330.25,797.81 L336.83,797.36 L343.42,796.93 L350.00,796.53" stroke="#0072BD" stroke-width="2.5"/><line x1="93.28" y1="739.25" x2="350.00" y2="739.25" stroke="#D86464" stroke-width="1.4"/></g>
<text class="tk" transform="translate(87.00,904.50) scale(0.93,1)" text-anchor="middle">0</text>
<text class="tk" transform="translate(218.65,904.50) scale(0.93,1)" text-anchor="middle">20</text>
<text class="tk" transform="translate(350.30,904.50) scale(0.93,1)" text-anchor="middle">40</text>
<text class="tk" transform="translate(79.40,869.50) scale(0.93,1)" text-anchor="end">−0.1</text>
<text class="tk" transform="translate(79.40,808.33) scale(0.93,1)" text-anchor="end">−0.05</text>
<text class="tk" transform="translate(79.40,747.15) scale(0.93,1)" text-anchor="end">0</text>
<text class="tt" x="218.85" y="731.50" text-anchor="middle">Q<tspan class="ast" dy="-3.3">*</tspan></text>
<g class="yl" transform="translate(21.30,867.52) rotate(-90)"><text transform="translate(-0.2,0) scale(0.59,1.07)">%</text><path d="M15.40,-0.80L31.10,-0.80L23.25,-16.20Z" fill="none" stroke="#262626" stroke-width="1.6" stroke-linejoin="miter" stroke-miterlimit="10"/><text x="40.70" y="0" word-spacing="1">from ss</text></g>
<clipPath id="c11"><rect x="451.00" y="737.75" width="266.80" height="141.75"/></clipPath>
<path d="M452.50,878.00v-2.7M452.50,739.25v2.7M584.40,878.00v-2.7M584.40,739.25v2.7M716.30,878.00v-2.7M716.30,739.25v2.7M452.50,878.00h2.7M716.30,878.00h-2.7M452.50,831.75h2.7M716.30,831.75h-2.7M452.50,785.50h2.7M716.30,785.50h-2.7M452.50,739.25h2.7M716.30,739.25h-2.7" stroke="#5a5a5a" stroke-width="1" fill="none"/>
<rect x="452.50" y="739.25" width="263.80" height="138.75" fill="none" stroke="#7c7c7c" stroke-width="1.2"/>
<g clip-path="url(#c11)" fill="none" stroke-linejoin="round"><path d="M459.10,877.49 L465.69,877.27 L472.28,877.05 L478.88,876.84 L485.48,876.64 L492.07,876.44 L498.66,876.25 L505.26,876.06 L511.86,875.88 L518.45,875.70 L525.04,875.53 L531.64,875.37 L538.24,875.21 L544.83,875.05 L551.42,874.90 L558.02,874.76 L564.62,874.62 L571.21,874.48 L577.80,874.36 L584.40,874.23 L591.00,874.11 L597.59,874.00 L604.18,873.90 L610.78,873.79 L617.38,873.70 L623.97,873.61 L630.56,873.52 L637.16,873.44 L643.75,873.37 L650.35,873.30 L656.94,873.23 L663.54,873.17 L670.13,873.12 L676.73,873.07 L683.32,873.03 L689.92,872.99 L696.51,872.96 L703.11,872.93 L709.70,872.91 L716.30,872.90" stroke="#000" stroke-width="2.4" stroke-dasharray="8.6 7.2"/><path d="M459.10,856.96 L465.69,856.56 L472.28,856.17 L478.88,855.82 L485.48,855.49 L492.07,855.18 L498.66,854.89 L505.26,854.62 L511.86,854.38 L518.45,854.15 L525.04,853.94 L531.64,853.74 L538.24,853.57 L544.83,853.41 L551.42,853.26 L558.02,853.12 L564.62,853.00 L571.21,852.89 L577.80,852.78 L584.40,852.69 L591.00,852.61 L597.59,852.53 L604.18,852.46 L610.78,852.39 L617.38,852.33 L623.97,852.27 L630.56,852.21 L637.16,852.16 L643.75,852.10 L650.35,852.05 L656.94,851.99 L663.54,851.93 L670.13,851.87 L676.73,851.80 L683.32,851.73 L689.92,851.65 L696.51,851.56 L703.11,851.46 L709.70,851.35 L716.30,851.24" stroke="#0072BD" stroke-width="2.5"/><line x1="459.10" y1="739.25" x2="716.30" y2="739.25" stroke="#D86464" stroke-width="1.4"/></g>
<text class="tk" transform="translate(452.80,904.50) scale(0.93,1)" text-anchor="middle">0</text>
<text class="tk" transform="translate(584.70,904.50) scale(0.93,1)" text-anchor="middle">20</text>
<text class="tk" transform="translate(716.60,904.50) scale(0.93,1)" text-anchor="middle">40</text>
<text class="tk" transform="translate(445.20,885.90) scale(0.93,1)" text-anchor="end">−0.06</text>
<text class="tk" transform="translate(445.20,839.65) scale(0.93,1)" text-anchor="end">−0.04</text>
<text class="tk" transform="translate(445.20,793.40) scale(0.93,1)" text-anchor="end">−0.02</text>
<text class="tk" transform="translate(445.20,747.15) scale(0.93,1)" text-anchor="end">0</text>
<text class="tt" x="584.90" y="731.50" text-anchor="middle">Q<tspan class="sup" dy="-11">B</tspan><tspan class="ast" dy="7.3">*</tspan></text>
<g class="yl" transform="translate(387.00,867.52) rotate(-90)"><text transform="translate(-0.2,0) scale(0.59,1.07)">%</text><path d="M15.40,-0.80L31.10,-0.80L23.25,-16.20Z" fill="none" stroke="#262626" stroke-width="1.6" stroke-linejoin="miter" stroke-miterlimit="10"/><text x="40.70" y="0" word-spacing="1">from ss</text></g>
<clipPath id="c12"><rect x="817.00" y="737.75" width="267.20" height="141.75"/></clipPath>
<path d="M818.50,878.00v-2.7M818.50,739.25v2.7M950.60,878.00v-2.7M950.60,739.25v2.7M1082.70,878.00v-2.7M1082.70,739.25v2.7M818.50,878.00h2.7M1082.70,878.00h-2.7M818.50,831.75h2.7M1082.70,831.75h-2.7M818.50,785.50h2.7M1082.70,785.50h-2.7M818.50,739.25h2.7M1082.70,739.25h-2.7" stroke="#5a5a5a" stroke-width="1" fill="none"/>
<rect x="818.50" y="739.25" width="264.20" height="138.75" fill="none" stroke="#7c7c7c" stroke-width="1.2"/>
<g clip-path="url(#c12)" fill="none" stroke-linejoin="round"><path d="M825.11,780.00 L831.71,777.38 L838.32,774.91 L844.92,772.59 L851.52,770.40 L858.13,768.34 L864.74,766.42 L871.34,764.61 L877.95,762.92 L884.55,761.34 L891.15,759.87 L897.76,758.50 L904.37,757.23 L910.97,756.05 L917.58,754.95 L924.18,753.93 L930.78,752.98 L937.39,752.11 L944.00,751.30 L950.60,750.54 L957.21,749.85 L963.81,749.20 L970.41,748.59 L977.02,748.03 L983.62,747.49 L990.23,746.99 L996.84,746.51 L1003.44,746.05 L1010.05,745.61 L1016.65,745.17 L1023.26,744.74 L1029.86,744.30 L1036.47,743.86 L1043.07,743.41 L1049.67,742.94 L1056.28,742.45 L1062.88,741.94 L1069.49,741.39 L1076.10,740.81 L1082.70,740.19" stroke="#000" stroke-width="2.4" stroke-dasharray="8.6 7.2"/><path d="M825.11,855.45 L831.71,852.59 L838.32,849.93 L844.92,847.46 L851.52,845.16 L858.13,843.04 L864.74,841.07 L871.34,839.25 L877.95,837.57 L884.55,836.03 L891.15,834.61 L897.76,833.29 L904.37,832.08 L910.97,830.97 L917.58,829.93 L924.18,828.98 L930.78,828.08 L937.39,827.24 L944.00,826.46 L950.60,825.72 L957.21,825.02 L963.81,824.37 L970.41,823.75 L977.02,823.16 L983.62,822.61 L990.23,822.08 L996.84,821.57 L1003.44,821.08 L1010.05,820.61 L1016.65,820.14 L1023.26,819.69 L1029.86,819.24 L1036.47,818.79 L1043.07,818.34 L1049.67,817.89 L1056.28,817.42 L1062.88,816.94 L1069.49,816.44 L1076.10,815.93 L1082.70,815.39" stroke="#0072BD" stroke-width="2.5"/><line x1="825.11" y1="739.25" x2="1082.70" y2="739.25" stroke="#D86464" stroke-width="1.4"/></g>
<text class="tk" transform="translate(818.80,904.50) scale(0.93,1)" text-anchor="middle">0</text>
<text class="tk" transform="translate(950.90,904.50) scale(0.93,1)" text-anchor="middle">20</text>
<text class="tk" transform="translate(1083.00,904.50) scale(0.93,1)" text-anchor="middle">40</text>
<text class="tk" transform="translate(811.20,885.90) scale(0.93,1)" text-anchor="end">−0.15</text>
<text class="tk" transform="translate(811.20,839.65) scale(0.93,1)" text-anchor="end">−0.1</text>
<text class="tk" transform="translate(811.20,793.40) scale(0.93,1)" text-anchor="end">−0.05</text>
<text class="tk" transform="translate(811.20,747.15) scale(0.93,1)" text-anchor="end">0</text>
<text class="tt" x="951.10" y="731.50" text-anchor="middle">C<tspan class="sup" dy="-11">h</tspan><tspan class="ast" dy="7.3">*</tspan></text>
<g class="yl" transform="translate(753.00,867.52) rotate(-90)"><text transform="translate(-0.2,0) scale(0.59,1.07)">%</text><path d="M15.40,-0.80L31.10,-0.80L23.25,-16.20Z" fill="none" stroke="#262626" stroke-width="1.6" stroke-linejoin="miter" stroke-miterlimit="10"/><text x="40.70" y="0" word-spacing="1">from ss</text></g>
<clipPath id="c13"><rect x="85.20" y="952.25" width="266.30" height="141.75"/></clipPath>
<path d="M86.70,1092.50v-2.7M86.70,953.75v2.7M218.35,1092.50v-2.7M218.35,953.75v2.7M350.00,1092.50v-2.7M350.00,953.75v2.7M86.70,1092.50h2.7M350.00,1092.50h-2.7M86.70,1029.29h2.7M350.00,1029.29h-2.7M86.70,966.08h2.7M350.00,966.08h-2.7" stroke="#5a5a5a" stroke-width="1" fill="none"/>
<rect x="86.70" y="953.75" width="263.30" height="138.75" fill="none" stroke="#7c7c7c" stroke-width="1.2"/>
<g clip-path="url(#c13)" fill="none" stroke-linejoin="round"><path d="M93.28,1040.86 L99.87,1041.99 L106.45,1043.05 L113.03,1044.04 L119.61,1044.96 L126.19,1045.82 L132.78,1046.61 L139.36,1047.35 L145.94,1048.04 L152.53,1048.67 L159.11,1049.25 L165.69,1049.79 L172.27,1050.28 L178.86,1050.74 L185.44,1051.16 L192.02,1051.54 L198.60,1051.89 L205.19,1052.22 L211.77,1052.52 L218.35,1052.80 L224.93,1053.06 L231.52,1053.30 L238.10,1053.53 L244.68,1053.75 L251.26,1053.97 L257.85,1054.18 L264.43,1054.39 L271.01,1054.60 L277.59,1054.82 L284.18,1055.04 L290.76,1055.28 L297.34,1055.53 L303.92,1055.80 L310.50,1056.09 L317.09,1056.40 L323.67,1056.74 L330.25,1057.11 L336.83,1057.51 L343.42,1057.94 L350.00,1058.41" stroke="#000" stroke-width="2.4" stroke-dasharray="8.6 7.2"/><path d="M93.28,955.60 L99.87,953.75 L106.45,1027.10 L113.03,1029.37 L119.61,1031.37 L126.19,1033.26 L132.78,1035.03 L139.36,1036.69 L145.94,1038.26 L152.53,1039.72 L159.11,1041.08 L165.69,1042.36 L172.27,1043.55 L178.86,1044.65 L185.44,1045.68 L192.02,1046.63 L198.60,1047.51 L205.19,1048.32 L211.77,1049.07 L218.35,1049.77 L224.93,1050.40 L231.52,1050.99 L238.10,1051.53 L244.68,1052.03 L251.26,1052.49 L257.85,1052.92 L264.43,1053.32 L271.01,1053.69 L277.59,1054.04 L284.18,1054.38 L290.76,1054.70 L297.34,1055.01 L303.92,1055.31 L310.50,1055.62 L317.09,1055.93 L323.67,1056.24 L330.25,1056.57 L336.83,1056.91 L343.42,1057.27 L350.00,1057.66" stroke="#0072BD" stroke-width="2.5"/><line x1="93.28" y1="1092.50" x2="350.00" y2="1092.50" stroke="#D86464" stroke-width="1.4"/></g>
<text class="tk" transform="translate(87.00,1119.00) scale(0.93,1)" text-anchor="middle">0</text>
<text class="tk" transform="translate(218.65,1119.00) scale(0.93,1)" text-anchor="middle">20</text>
<text class="tk" transform="translate(350.30,1119.00) scale(0.93,1)" text-anchor="middle">40</text>
<text class="tk" transform="translate(79.40,1100.40) scale(0.93,1)" text-anchor="end">0</text>
<text class="tk" transform="translate(79.40,1037.19) scale(0.93,1)" text-anchor="end">0.1</text>
<text class="tk" transform="translate(79.40,973.98) scale(0.93,1)" text-anchor="end">0.2</text>
<g fill="none"><ellipse cx="218.85" cy="940.70" rx="6.2" ry="4.7" transform="rotate(-35 218.85 940.70)" stroke="#111" stroke-width="1.45"/><line x1="221.45" y1="930.20" x2="216.45" y2="949.60" stroke="#555" stroke-width="1.1"/></g>
<g class="yl" transform="translate(44.10,1082.03) rotate(-90)"><text transform="translate(-0.2,0) scale(0.59,1.07)">%</text><path d="M15.40,-0.80L31.10,-0.80L23.25,-16.20Z" fill="none" stroke="#262626" stroke-width="1.6" stroke-linejoin="miter" stroke-miterlimit="10"/><text x="40.70" y="0" word-spacing="1">from ss</text></g>
<clipPath id="c14"><rect x="451.00" y="952.25" width="266.80" height="141.75"/></clipPath>
<path d="M452.50,1092.50v-2.7M452.50,953.75v2.7M584.40,1092.50v-2.7M584.40,953.75v2.7M716.30,1092.50v-2.7M716.30,953.75v2.7M452.50,1092.50h2.7M716.30,1092.50h-2.7M452.50,1047.16h2.7M716.30,1047.16h-2.7M452.50,1001.81h2.7M716.30,1001.81h-2.7M452.50,956.47h2.7M716.30,956.47h-2.7" stroke="#5a5a5a" stroke-width="1" fill="none"/>
<rect x="452.50" y="953.75" width="263.80" height="138.75" fill="none" stroke="#7c7c7c" stroke-width="1.2"/>
<g clip-path="url(#c14)" fill="none" stroke-linejoin="round"><path d="M459.10,990.49 L465.69,997.31 L472.28,1003.68 L478.88,1009.63 L485.48,1015.18 L492.07,1020.33 L498.66,1025.11 L505.26,1029.53 L511.86,1033.61 L518.45,1037.37 L525.04,1040.81 L531.64,1043.97 L538.24,1046.84 L544.83,1049.46 L551.42,1051.84 L558.02,1053.99 L564.62,1055.92 L571.21,1057.66 L577.80,1059.22 L584.40,1060.61 L591.00,1061.85 L597.59,1062.95 L604.18,1063.93 L610.78,1064.79 L617.38,1065.56 L623.97,1066.25 L630.56,1066.87 L637.16,1067.44 L643.75,1067.98 L650.35,1068.49 L656.94,1068.99 L663.54,1069.49 L670.13,1070.02 L676.73,1070.58 L683.32,1071.20 L689.92,1071.87 L696.51,1072.62 L703.11,1073.47 L709.70,1074.42 L716.30,1075.50" stroke="#000" stroke-width="2.4" stroke-dasharray="8.6 7.2"/><path d="M459.10,953.75 L465.69,958.80 L472.28,980.00 L478.88,987.91 L485.48,994.70 L492.07,1000.99 L498.66,1006.81 L505.26,1012.18 L511.86,1017.14 L518.45,1021.70 L525.04,1025.90 L531.64,1029.76 L538.24,1033.32 L544.83,1036.59 L551.42,1039.61 L558.02,1042.40 L564.62,1044.98 L571.21,1047.40 L577.80,1049.65 L584.40,1051.76 L591.00,1053.72 L597.59,1055.54 L604.18,1057.24 L610.78,1058.81 L617.38,1060.28 L623.97,1061.64 L630.56,1062.90 L637.16,1064.08 L643.75,1065.17 L650.35,1066.20 L656.94,1067.15 L663.54,1068.06 L670.13,1068.91 L676.73,1069.72 L683.32,1070.50 L689.92,1071.25 L696.51,1071.99 L703.11,1072.71 L709.70,1073.44 L716.30,1074.17" stroke="#0072BD" stroke-width="2.5"/><line x1="459.10" y1="1092.50" x2="716.30" y2="1092.50" stroke="#D86464" stroke-width="1.4"/></g>
<text class="tk" transform="translate(452.80,1119.00) scale(0.93,1)" text-anchor="middle">0</text>
<text class="tk" transform="translate(584.70,1119.00) scale(0.93,1)" text-anchor="middle">20</text>
<text class="tk" transform="translate(716.60,1119.00) scale(0.93,1)" text-anchor="middle">40</text>
<text class="tk" transform="translate(445.20,1100.40) scale(0.93,1)" text-anchor="end">0</text>
<text class="tk" transform="translate(445.20,1055.06) scale(0.93,1)" text-anchor="end">0.1</text>
<text class="tk" transform="translate(445.20,1009.71) scale(0.93,1)" text-anchor="end">0.2</text>
<text class="tk" transform="translate(445.20,964.37) scale(0.93,1)" text-anchor="end">0.3</text>
<g fill="none"><ellipse cx="578.10" cy="940.70" rx="6.2" ry="4.7" transform="rotate(-35 578.10 940.70)" stroke="#111" stroke-width="1.45"/><line x1="580.70" y1="930.20" x2="575.70" y2="949.60" stroke="#555" stroke-width="1.1"/></g>
<text class="tsup" x="585.90" y="934.50">B</text>
<g class="yl" transform="translate(410.00,1082.03) rotate(-90)"><text transform="translate(-0.2,0) scale(0.59,1.07)">%</text><path d="M15.40,-0.80L31.10,-0.80L23.25,-16.20Z" fill="none" stroke="#262626" stroke-width="1.6" stroke-linejoin="miter" stroke-miterlimit="10"/><text x="40.70" y="0" word-spacing="1">from ss</text></g>
<clipPath id="c15"><rect x="817.00" y="952.25" width="267.20" height="141.75"/></clipPath>
<path d="M818.50,1092.50v-2.7M818.50,953.75v2.7M950.60,1092.50v-2.7M950.60,953.75v2.7M1082.70,1092.50v-2.7M1082.70,953.75v2.7M818.50,1082.02h2.7M1082.70,1082.02h-2.7M818.50,1039.27h2.7M1082.70,1039.27h-2.7M818.50,996.51h2.7M1082.70,996.51h-2.7M818.50,953.75h2.7M1082.70,953.75h-2.7" stroke="#5a5a5a" stroke-width="1" fill="none"/>
<rect x="818.50" y="953.75" width="264.20" height="138.75" fill="none" stroke="#7c7c7c" stroke-width="1.2"/>
<g clip-path="url(#c15)" fill="none" stroke-linejoin="round"><path d="M825.11,1091.85 L831.71,1085.00 L838.32,1078.45 L844.92,1072.20 L851.52,1066.24 L858.13,1060.56 L864.74,1055.15 L871.34,1050.00 L877.95,1045.10 L884.55,1040.44 L891.15,1036.01 L897.76,1031.79 L904.37,1027.79 L910.97,1023.98 L917.58,1020.37 L924.18,1016.93 L930.78,1013.66 L937.39,1010.56 L944.00,1007.62 L950.60,1004.83 L957.21,1002.18 L963.81,999.68 L970.41,997.31 L977.02,995.06 L983.62,992.94 L990.23,990.93 L996.84,989.04 L1003.44,987.24 L1010.05,985.54 L1016.65,983.93 L1023.26,982.40 L1029.86,980.95 L1036.47,979.57 L1043.07,978.25 L1049.67,977.00 L1056.28,975.79 L1062.88,974.64 L1069.49,973.52 L1076.10,972.43 L1082.70,971.37" stroke="#000" stroke-width="2.4" stroke-dasharray="8.6 7.2"/><path d="M825.11,1087.40 L831.71,1081.00 L838.32,1077.30 L844.92,1070.71 L851.52,1065.15 L858.13,1059.80 L864.74,1054.66 L871.34,1049.74 L877.95,1045.01 L884.55,1040.48 L891.15,1036.15 L897.76,1032.00 L904.37,1028.03 L910.97,1024.24 L917.58,1020.63 L924.18,1017.18 L930.78,1013.89 L937.39,1010.76 L944.00,1007.79 L950.60,1004.96 L957.21,1002.27 L963.81,999.72 L970.41,997.31 L977.02,995.02 L983.62,992.85 L990.23,990.80 L996.84,988.86 L1003.44,987.03 L1010.05,985.31 L1016.65,983.68 L1023.26,982.14 L1029.86,980.69 L1036.47,979.32 L1043.07,978.03 L1049.67,976.82 L1056.28,975.67 L1062.88,974.58 L1069.49,973.55 L1076.10,972.57 L1082.70,971.64" stroke="#0072BD" stroke-width="2.5"/><line x1="825.11" y1="953.75" x2="1082.70" y2="953.75" stroke="#D86464" stroke-width="1.4"/></g>
<text class="tk" transform="translate(818.80,1119.00) scale(0.93,1)" text-anchor="middle">0</text>
<text class="tk" transform="translate(950.90,1119.00) scale(0.93,1)" text-anchor="middle">20</text>
<text class="tk" transform="translate(1083.00,1119.00) scale(0.93,1)" text-anchor="middle">40</text>
<text class="tk" transform="translate(811.20,1089.92) scale(0.93,1)" text-anchor="end">−0.06</text>
<text class="tk" transform="translate(811.20,1047.17) scale(0.93,1)" text-anchor="end">−0.04</text>
<text class="tk" transform="translate(811.20,1004.41) scale(0.93,1)" text-anchor="end">−0.02</text>
<text class="tk" transform="translate(811.20,961.65) scale(0.93,1)" text-anchor="end">0</text>
<text class="tt" x="951.10" y="946.00" text-anchor="middle">y</text>
<g class="yl" transform="translate(753.00,1082.03) rotate(-90)"><text transform="translate(-0.2,0) scale(0.59,1.07)">%</text><path d="M15.40,-0.80L31.10,-0.80L23.25,-16.20Z" fill="none" stroke="#262626" stroke-width="1.6" stroke-linejoin="miter" stroke-miterlimit="10"/><text x="40.70" y="0" word-spacing="1">from ss</text></g>
<clipPath id="c16"><rect x="85.20" y="1167.75" width="266.30" height="141.00"/></clipPath>
<path d="M86.70,1307.25v-2.7M86.70,1169.25v2.7M218.35,1307.25v-2.7M218.35,1169.25v2.7M350.00,1307.25v-2.7M350.00,1169.25v2.7M86.70,1307.25h2.7M350.00,1307.25h-2.7M86.70,1261.25h2.7M350.00,1261.25h-2.7M86.70,1215.25h2.7M350.00,1215.25h-2.7M86.70,1169.25h2.7M350.00,1169.25h-2.7" stroke="#5a5a5a" stroke-width="1" fill="none"/>
<rect x="86.70" y="1169.25" width="263.30" height="138.00" fill="none" stroke="#7c7c7c" stroke-width="1.2"/>
<g clip-path="url(#c16)" fill="none" stroke-linejoin="round"><path d="M93.28,1299.89 L99.87,1294.45 L106.45,1289.22 L113.03,1284.19 L119.61,1279.35 L126.19,1274.70 L132.78,1270.23 L139.36,1265.93 L145.94,1261.79 L152.53,1257.81 L159.11,1253.97 L165.69,1250.28 L172.27,1246.72 L178.86,1243.29 L185.44,1239.98 L192.02,1236.78 L198.60,1233.69 L205.19,1230.69 L211.77,1227.79 L218.35,1224.97 L224.93,1222.25 L231.52,1219.62 L238.10,1217.07 L244.68,1214.60 L251.26,1212.22 L257.85,1209.92 L264.43,1207.70 L271.01,1205.56 L277.59,1203.49 L284.18,1201.49 L290.76,1199.57 L297.34,1197.72 L303.92,1195.93 L310.50,1194.21 L317.09,1192.56 L323.67,1190.97 L330.25,1189.44 L336.83,1187.97 L343.42,1186.56 L350.00,1185.20" stroke="#000" stroke-width="2.4" stroke-dasharray="8.6 7.2"/><path d="M93.28,1303.46 L99.87,1297.06 L106.45,1290.94 L113.03,1285.09 L119.61,1279.50 L126.19,1274.17 L132.78,1269.07 L139.36,1264.21 L145.94,1259.57 L152.53,1255.15 L159.11,1250.93 L165.69,1246.90 L172.27,1243.06 L178.86,1239.40 L185.44,1235.90 L192.02,1232.55 L198.60,1229.36 L205.19,1226.30 L211.77,1223.37 L218.35,1220.56 L224.93,1217.88 L231.52,1215.31 L238.10,1212.86 L244.68,1210.51 L251.26,1208.26 L257.85,1206.11 L264.43,1204.06 L271.01,1202.09 L277.59,1200.21 L284.18,1198.40 L290.76,1196.67 L297.34,1195.00 L303.92,1193.41 L310.50,1191.87 L317.09,1190.39 L323.67,1188.96 L330.25,1187.57 L336.83,1186.23 L343.42,1184.92 L350.00,1183.65" stroke="#0072BD" stroke-width="2.5"/><line x1="93.28" y1="1169.25" x2="350.00" y2="1169.25" stroke="#D86464" stroke-width="1.4"/></g>
<text class="tk" transform="translate(87.00,1333.75) scale(0.93,1)" text-anchor="middle">0</text>
<text class="tk" transform="translate(218.65,1333.75) scale(0.93,1)" text-anchor="middle">20</text>
<text class="tk" transform="translate(350.30,1333.75) scale(0.93,1)" text-anchor="middle">40</text>
<text class="tk" transform="translate(79.40,1315.15) scale(0.93,1)" text-anchor="end">−0.03</text>
<text class="tk" transform="translate(79.40,1269.15) scale(0.93,1)" text-anchor="end">−0.02</text>
<text class="tk" transform="translate(79.40,1223.15) scale(0.93,1)" text-anchor="end">−0.01</text>
<text class="tk" transform="translate(79.40,1177.15) scale(0.93,1)" text-anchor="end">0</text>
<text class="tt" x="218.85" y="1161.50" text-anchor="middle">C<tspan class="sup" dy="-11">h</tspan></text>
<g class="yl" transform="translate(21.30,1297.15) rotate(-90)"><text transform="translate(-0.2,0) scale(0.59,1.07)">%</text><path d="M15.40,-0.80L31.10,-0.80L23.25,-16.20Z" fill="none" stroke="#262626" stroke-width="1.6" stroke-linejoin="miter" stroke-miterlimit="10"/><text x="40.70" y="0" word-spacing="1">from ss</text></g>
<clipPath id="c17"><rect x="451.00" y="1167.75" width="266.80" height="141.00"/></clipPath>
<path d="M452.50,1307.25v-2.7M452.50,1169.25v2.7M584.40,1307.25v-2.7M584.40,1169.25v2.7M716.30,1307.25v-2.7M716.30,1169.25v2.7M452.50,1307.25h2.7M716.30,1307.25h-2.7M452.50,1244.75h2.7M716.30,1244.75h-2.7M452.50,1182.25h2.7M716.30,1182.25h-2.7" stroke="#5a5a5a" stroke-width="1" fill="none"/>
<rect x="452.50" y="1169.25" width="263.80" height="138.00" fill="none" stroke="#7c7c7c" stroke-width="1.2"/>
<g clip-path="url(#c17)" fill="none" stroke-linejoin="round"><path d="M459.10,1299.64 L465.69,1290.10 L472.28,1281.13 L478.88,1272.71 L485.48,1264.83 L492.07,1257.46 L498.66,1250.58 L505.26,1244.17 L511.86,1238.20 L518.45,1232.66 L525.04,1227.48 L531.64,1222.65 L538.24,1218.13 L544.83,1213.86 L551.42,1209.83 L558.02,1205.98 L564.62,1202.30 L571.21,1198.81 L577.80,1195.50 L584.40,1192.39 L591.00,1189.49 L597.59,1186.81 L604.18,1184.35 L610.78,1182.14 L617.38,1180.17 L623.97,1178.44 L630.56,1176.95 L637.16,1175.68 L643.75,1174.60 L650.35,1173.70 L656.94,1172.95 L663.54,1172.32 L670.13,1171.80 L676.73,1171.35 L683.32,1170.95 L689.92,1170.58 L696.51,1170.21 L703.11,1169.82 L709.70,1169.39 L711.60,1169.25" stroke="#000" stroke-width="2.4" stroke-dasharray="8.6 7.2"/><path d="M459.10,1212.80 L465.69,1203.90 L472.28,1244.30 L478.88,1239.11 L485.48,1234.75 L492.07,1230.60 L498.66,1226.64 L505.26,1222.88 L511.86,1219.31 L518.45,1215.92 L525.04,1212.70 L531.64,1209.65 L538.24,1206.77 L544.83,1204.05 L551.42,1201.49 L558.02,1199.07 L564.62,1196.79 L571.21,1194.65 L577.80,1192.64 L584.40,1190.75 L591.00,1188.99 L597.59,1187.33 L604.18,1185.79 L610.78,1184.35 L617.38,1183.00 L623.97,1181.75 L630.56,1180.58 L637.16,1179.49 L643.75,1178.47 L650.35,1177.53 L656.94,1176.64 L663.54,1175.81 L670.13,1175.04 L676.73,1174.30 L683.32,1173.61 L689.92,1172.95 L696.51,1172.32 L703.11,1171.72 L709.70,1171.13 L716.30,1170.55" stroke="#0072BD" stroke-width="2.5"/><line x1="459.10" y1="1182.10" x2="716.30" y2="1182.10" stroke="#D86464" stroke-width="1.4"/></g>
<text class="tk" transform="translate(452.80,1333.75) scale(0.93,1)" text-anchor="middle">0</text>
<text class="tk" transform="translate(584.70,1333.75) scale(0.93,1)" text-anchor="middle">20</text>
<text class="tk" transform="translate(716.60,1333.75) scale(0.93,1)" text-anchor="middle">40</text>
<text class="tk" transform="translate(445.20,1315.15) scale(0.93,1)" text-anchor="end">−0.2</text>
<text class="tk" transform="translate(445.20,1252.65) scale(0.93,1)" text-anchor="end">−0.1</text>
<text class="tk" transform="translate(445.20,1190.15) scale(0.93,1)" text-anchor="end">0</text>
<text class="tt" x="584.90" y="1161.50" text-anchor="middle">D</text>
<g class="yl" transform="translate(399.20,1297.15) rotate(-90)"><text transform="translate(-0.2,0) scale(0.59,1.07)">%</text><path d="M15.40,-0.80L31.10,-0.80L23.25,-16.20Z" fill="none" stroke="#262626" stroke-width="1.6" stroke-linejoin="miter" stroke-miterlimit="10"/><text x="40.70" y="0" word-spacing="1">from ss</text></g>
<clipPath id="c18"><rect x="817.00" y="1167.75" width="267.20" height="141.00"/></clipPath>
<path d="M818.50,1307.25v-2.7M818.50,1169.25v2.7M950.60,1307.25v-2.7M950.60,1169.25v2.7M1082.70,1307.25v-2.7M1082.70,1169.25v2.7M818.50,1307.25h2.7M1082.70,1307.25h-2.7M818.50,1261.25h2.7M1082.70,1261.25h-2.7M818.50,1215.25h2.7M1082.70,1215.25h-2.7M818.50,1169.25h2.7M1082.70,1169.25h-2.7" stroke="#5a5a5a" stroke-width="1" fill="none"/>
<rect x="818.50" y="1169.25" width="264.20" height="138.00" fill="none" stroke="#7c7c7c" stroke-width="1.2"/>
<g clip-path="url(#c18)" fill="none" stroke-linejoin="round"><path d="M825.11,1209.58 L831.71,1212.50 L838.32,1215.29 L844.92,1217.96 L851.52,1220.53 L858.13,1222.99 L864.74,1225.35 L871.34,1227.62 L877.95,1229.81 L884.55,1231.93 L891.15,1233.97 L897.76,1235.96 L904.37,1237.88 L910.97,1239.76 L917.58,1241.60 L924.18,1243.40 L930.78,1245.18 L937.39,1246.93 L944.00,1248.67 L950.60,1250.40 L957.21,1252.12 L963.81,1253.84 L970.41,1255.55 L977.02,1257.25 L983.62,1258.94 L990.23,1260.63 L996.84,1262.31 L1003.44,1263.98 L1010.05,1265.65 L1016.65,1267.31 L1023.26,1268.97 L1029.86,1270.63 L1036.47,1272.27 L1043.07,1273.92 L1049.67,1275.56 L1056.28,1277.19 L1062.88,1278.83 L1069.49,1280.46 L1076.10,1282.08 L1082.70,1283.71" stroke="#000" stroke-width="2.4" stroke-dasharray="8.6 7.2"/><path d="M825.11,1179.75 L831.71,1189.70 L838.32,1188.30 L844.92,1193.33 L851.52,1198.45 L858.13,1203.34 L864.74,1208.00 L871.34,1212.43 L877.95,1216.65 L884.55,1220.67 L891.15,1224.49 L897.76,1228.13 L904.37,1231.58 L910.97,1234.87 L917.58,1237.99 L924.18,1240.96 L930.78,1243.78 L937.39,1246.46 L944.00,1249.01 L950.60,1251.44 L957.21,1253.76 L963.81,1255.96 L970.41,1258.06 L977.02,1260.07 L983.62,1261.98 L990.23,1263.82 L996.84,1265.58 L1003.44,1267.27 L1010.05,1268.90 L1016.65,1270.48 L1023.26,1272.01 L1029.86,1273.50 L1036.47,1274.95 L1043.07,1276.38 L1049.67,1277.79 L1056.28,1279.19 L1062.88,1280.58 L1069.49,1281.98 L1076.10,1283.38 L1082.70,1284.80" stroke="#0072BD" stroke-width="2.5"/><line x1="825.11" y1="1307.25" x2="1082.70" y2="1307.25" stroke="#D86464" stroke-width="1.4"/></g>
<text class="tk" transform="translate(818.80,1333.75) scale(0.93,1)" text-anchor="middle">0</text>
<text class="tk" transform="translate(950.90,1333.75) scale(0.93,1)" text-anchor="middle">20</text>
<text class="tk" transform="translate(1083.00,1333.75) scale(0.93,1)" text-anchor="middle">40</text>
<text class="tk" transform="translate(811.20,1315.15) scale(0.93,1)" text-anchor="end">0</text>
<text class="tk" transform="translate(811.20,1269.15) scale(0.93,1)" text-anchor="end">2</text>
<text class="tk" transform="translate(811.20,1223.15) scale(0.93,1)" text-anchor="end">4</text>
<text class="tk" transform="translate(811.20,1177.15) scale(0.93,1)" text-anchor="end">6</text>
<path d="M821.10,1153.95L832.30,1165.15M832.30,1153.95L821.10,1165.15" stroke="#333" stroke-width="1.2" fill="none"/>
<text class="tk" transform="translate(835.30,1164.65) scale(0.93,1)">10<tspan class="esup" dx="0.3" dy="-10.7">−3</tspan></text>
<text class="tt" x="951.10" y="1161.50" text-anchor="middle">R</text>
<g class="yl" transform="translate(791.80,1317.40) rotate(-90)"><text x="-0.1" y="0">Ann.</text><path d="M55.50,-0.80L71.20,-0.80L63.35,-16.20Z" fill="none" stroke="#262626" stroke-width="1.6" stroke-linejoin="miter" stroke-miterlimit="10"/><text x="81.30" y="0" word-spacing="1">from ss</text></g>
<rect x="975.6" y="623.60" width="221" height="49" fill="#fff" stroke="#7c7c7c" stroke-width="1"/><line x1="979" y1="637.20" x2="1013.5" y2="637.20" stroke="#000" stroke-width="2.4" stroke-dasharray="7 7 10 8.5 1.5 100"/><text class="lg" x="1015.5" y="644.10">z impulse</text><line x1="979" y1="659.80" x2="1013" y2="659.80" stroke="#0072BD" stroke-width="2.4"/><text class="lg" x="1015.5" y="667.10">Liquidity regulation</text>
<rect x="975.6" y="1328.00" width="221" height="49" fill="#fff" stroke="#7c7c7c" stroke-width="1"/><line x1="979" y1="1341.60" x2="1013.5" y2="1341.60" stroke="#000" stroke-width="2.4" stroke-dasharray="7 7 10 8.5 1.5 100"/><text class="lg" x="1015.5" y="1348.50">z impulse</text><line x1="979" y1="1364.20" x2="1013" y2="1364.20" stroke="#0072BD" stroke-width="2.4"/><text class="lg" x="1015.5" y="1371.50">Liquidity regulation</text>
</svg>
</body></html>
